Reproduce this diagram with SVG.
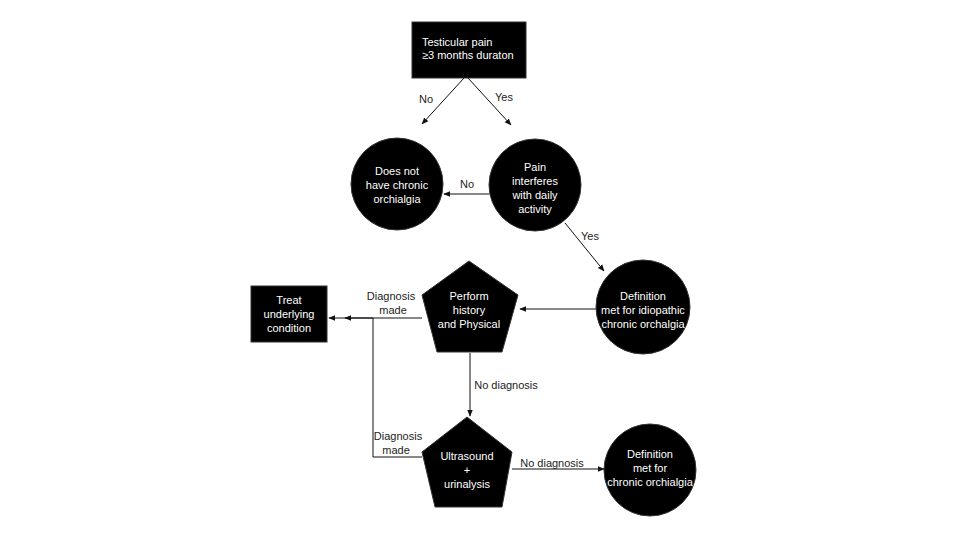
<svg xmlns="http://www.w3.org/2000/svg" width="960" height="540" viewBox="0 0 960 540">
<style>
.node{fill:#000;stroke:#333;stroke-width:1}
.t{font-family:"Liberation Sans",Arial,sans-serif;font-size:11px;fill:#fff;text-anchor:middle}
.tl{font-family:"Liberation Sans",Arial,sans-serif;font-size:11px;fill:#fff}
.lbl{font-family:"Liberation Sans",Arial,sans-serif;font-size:11px;fill:#222;text-anchor:middle}
.c{stroke:#111;stroke-width:1;fill:none}
</style>
<defs>
<marker id="ah" viewBox="0 0 10 10" refX="9" refY="5" markerWidth="7" markerHeight="7" orient="auto" markerUnits="userSpaceOnUse">
<path d="M0,1 L10,5 L0,9 z" fill="#111"/>
</marker>
</defs>
<rect width="960" height="540" fill="#fff"/>
<g id="connectors">
<line class="c" x1="464" y1="78" x2="422" y2="124" marker-end="url(#ah)"/>
<line class="c" x1="468" y1="78" x2="511" y2="125" marker-end="url(#ah)"/>
<line class="c" x1="489" y1="194" x2="444" y2="194" marker-end="url(#ah)"/>
<line class="c" x1="565" y1="223" x2="604" y2="271" marker-end="url(#ah)"/>
<line class="c" x1="596" y1="309" x2="520" y2="309" marker-end="url(#ah)"/>
<line class="c" x1="422" y1="318" x2="345" y2="318" marker-end="url(#ah)"/>
<polyline class="c" points="422,457 373,457 373,318 329,318" marker-end="url(#ah)"/>
<line class="c" x1="470" y1="353" x2="470" y2="416" marker-end="url(#ah)"/>
<line class="c" x1="512" y1="469" x2="604" y2="469" marker-end="url(#ah)"/>
<text class="lbl" x="426" y="103">No</text>
<text class="lbl" x="504" y="101">Yes</text>
<text class="lbl" x="467" y="188">No</text>
<text class="lbl" x="590" y="240">Yes</text>
<text class="lbl" x="391" y="300">Diagnosis</text>
<text class="lbl" x="393" y="314">made</text>
<text class="lbl" x="506" y="389">No diagnosis</text>
<text class="lbl" x="398" y="440">Diagnosis</text>
<text class="lbl" x="396" y="454">made</text>
<text class="lbl" x="552" y="467">No diagnosis</text>
</g>
<g id="n-start">
<rect class="node" x="412" y="22" width="114" height="56"/>
<text class="tl" x="422" y="46">Testicular pain</text>
<text class="tl" x="422" y="59">≥3 months duraton</text>
</g>
<g id="n-not">
<circle class="node" cx="397" cy="184" r="46"/>
<text class="t" x="397" y="175">Does not</text>
<text class="t" x="397" y="189">have chronic</text>
<text class="t" x="397" y="203">orchialgia</text>
</g>
<g id="n-pain">
<circle class="node" cx="535" cy="185" r="46"/>
<text class="t" x="535" y="171">Pain</text>
<text class="t" x="535" y="185">interferes</text>
<text class="t" x="535" y="199">with daily</text>
<text class="t" x="535" y="213">activity</text>
</g>
<g id="n-idio">
<circle class="node" cx="643" cy="307" r="47"/>
<text class="t" x="643" y="300">Definition</text>
<text class="t" x="643" y="314">met for idiopathic</text>
<text class="t" x="643" y="328">chronic orchalgia</text>
</g>
<g id="n-perform">
<polygon class="node" points="469,261 518,295 502,352 437,352 422,295"/>
<text class="t" x="469" y="300">Perform</text>
<text class="t" x="469" y="314">history</text>
<text class="t" x="469" y="328">and Physical</text>
</g>
<g id="n-treat">
<rect class="node" x="251" y="286" width="76" height="56"/>
<text class="t" x="289" y="304">Treat</text>
<text class="t" x="289" y="318">underlying</text>
<text class="t" x="289" y="332">condition</text>
</g>
<g id="n-us">
<polygon class="node" points="467,417 512,452 502,507 435,507 422,452"/>
<text class="t" x="467" y="460">Ultrasound</text>
<text class="t" x="467" y="474">+</text>
<text class="t" x="467" y="488">urinalysis</text>
</g>
<g id="n-chronic">
<circle class="node" cx="650" cy="470" r="46"/>
<text class="t" x="650" y="458">Definition</text>
<text class="t" x="650" y="472">met for</text>
<text class="t" x="650" y="486">chronic orchialgia</text>
</g>
</svg>
